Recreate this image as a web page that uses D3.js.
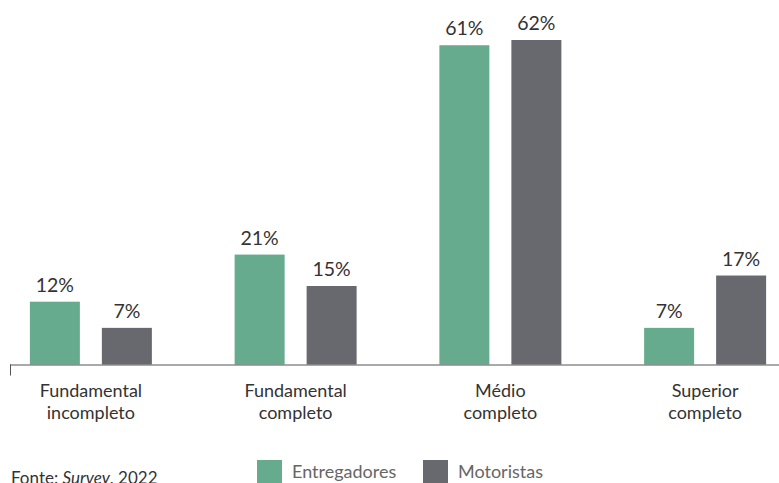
<!DOCTYPE html>
<html>
<head>
<meta charset="utf-8">
<script src="https://cdn.jsdelivr.net/npm/d3@7"></script>
<style>
  html, body { margin: 0; padding: 0; background: #fff; }
  svg { display: block; font-family: "Lato", "Noto Sans", sans-serif; }
</style>
</head>
<body>
<svg id="chart" width="779" height="483"></svg>
<script>
// Escolaridade: entregadores vs motoristas (%)
const categories = [["Fundamental", "incompleto"], ["Fundamental", "completo"], ["Médio", "completo"], ["Superior", "completo"]];
const seriesNames = ["Entregadores", "Motoristas"];
const entregadores = [12, 21, 61, 7];
const motoristas = [7, 15, 62, 17];
const colors = ["#67ab8e", "#68696e"];
const source = "Fonte: ";
const sourceItalic = "Survey";
const sourceYear = ", 2022";

const svg = d3.select("#chart");
const baseline = 364.5;

const keys = categories.map(c => c.join(" "));
const x = d3.scalePoint().domain(keys).range([-11.5, 807.5]).padding(0.5);
const sub = d3.scalePoint().domain(seriesNames).range([-36, 36]);
const barW = 50;
const y = d3.scaleLinear().domain([0, 62]).range([baseline, 40]);

const rows = keys.map((k, i) => ({ key: k, values: [entregadores[i], motoristas[i]] }));

const groups = svg.selectAll("g.grp").data(rows).join("g")
  .attr("class", "grp")
  .attr("transform", d => `translate(${x(d.key)},0)`);

groups.selectAll("rect").data(d => d.values.map((v, j) => ({ v, s: seriesNames[j], j })))
  .join("rect")
  .attr("x", d => sub(d.s) - barW / 2)
  .attr("y", d => y(d.v))
  .attr("width", barW)
  .attr("height", d => baseline - y(d.v))
  .attr("fill", d => colors[d.j]);

groups.selectAll("text.val").data(d => d.values.map((v, j) => ({ v, s: seriesNames[j] })))
  .join("text")
  .attr("class", "val")
  .attr("x", d => sub(d.s))
  .attr("y", d => y(d.v) - 10)
  .attr("text-anchor", "middle")
  .attr("font-size", 19.5)
  .attr("fill", "#333")
  .text(d => d.v + "%");

// eixo horizontal
const axis = svg.append("g");
axis.append("line").attr("x1", 10).attr("x2", 779).attr("y1", baseline + 0.5).attr("y2", baseline + 0.5)
  .attr("stroke", "#555").attr("stroke-width", 1);
axis.append("line").attr("x1", 10.5).attr("x2", 10.5).attr("y1", baseline).attr("y2", baseline + 11)
  .attr("stroke", "#555").attr("stroke-width", 1);

categories.forEach((c, i) => {
  const t = svg.append("text")
    .attr("x", x(keys[i]))
    .attr("y", 397)
    .attr("text-anchor", "middle")
    .attr("font-size", 18)
    .attr("fill", "#333");
  c.forEach((line, li) => {
    t.append("tspan").attr("x", x(keys[i])).attr("dy", li === 0 ? 0 : 22).text(line);
  });
});

// legenda
const legendX = [257, 423];
seriesNames.forEach((s, i) => {
  svg.append("rect").attr("x", legendX[i]).attr("y", 460).attr("width", 25).attr("height", 24)
    .attr("fill", colors[i]);
  svg.append("text").attr("x", legendX[i] + 35).attr("y", 478)
    .attr("font-size", 18).attr("fill", "#666").text(s);
});

// fonte
const src = svg.append("text").attr("x", 11).attr("y", 484).attr("font-size", 17).attr("fill", "#333");
src.append("tspan").text(source);
src.append("tspan").attr("font-style", "italic").text(sourceItalic);
src.append("tspan").text(sourceYear);
</script>
</body>
</html>
